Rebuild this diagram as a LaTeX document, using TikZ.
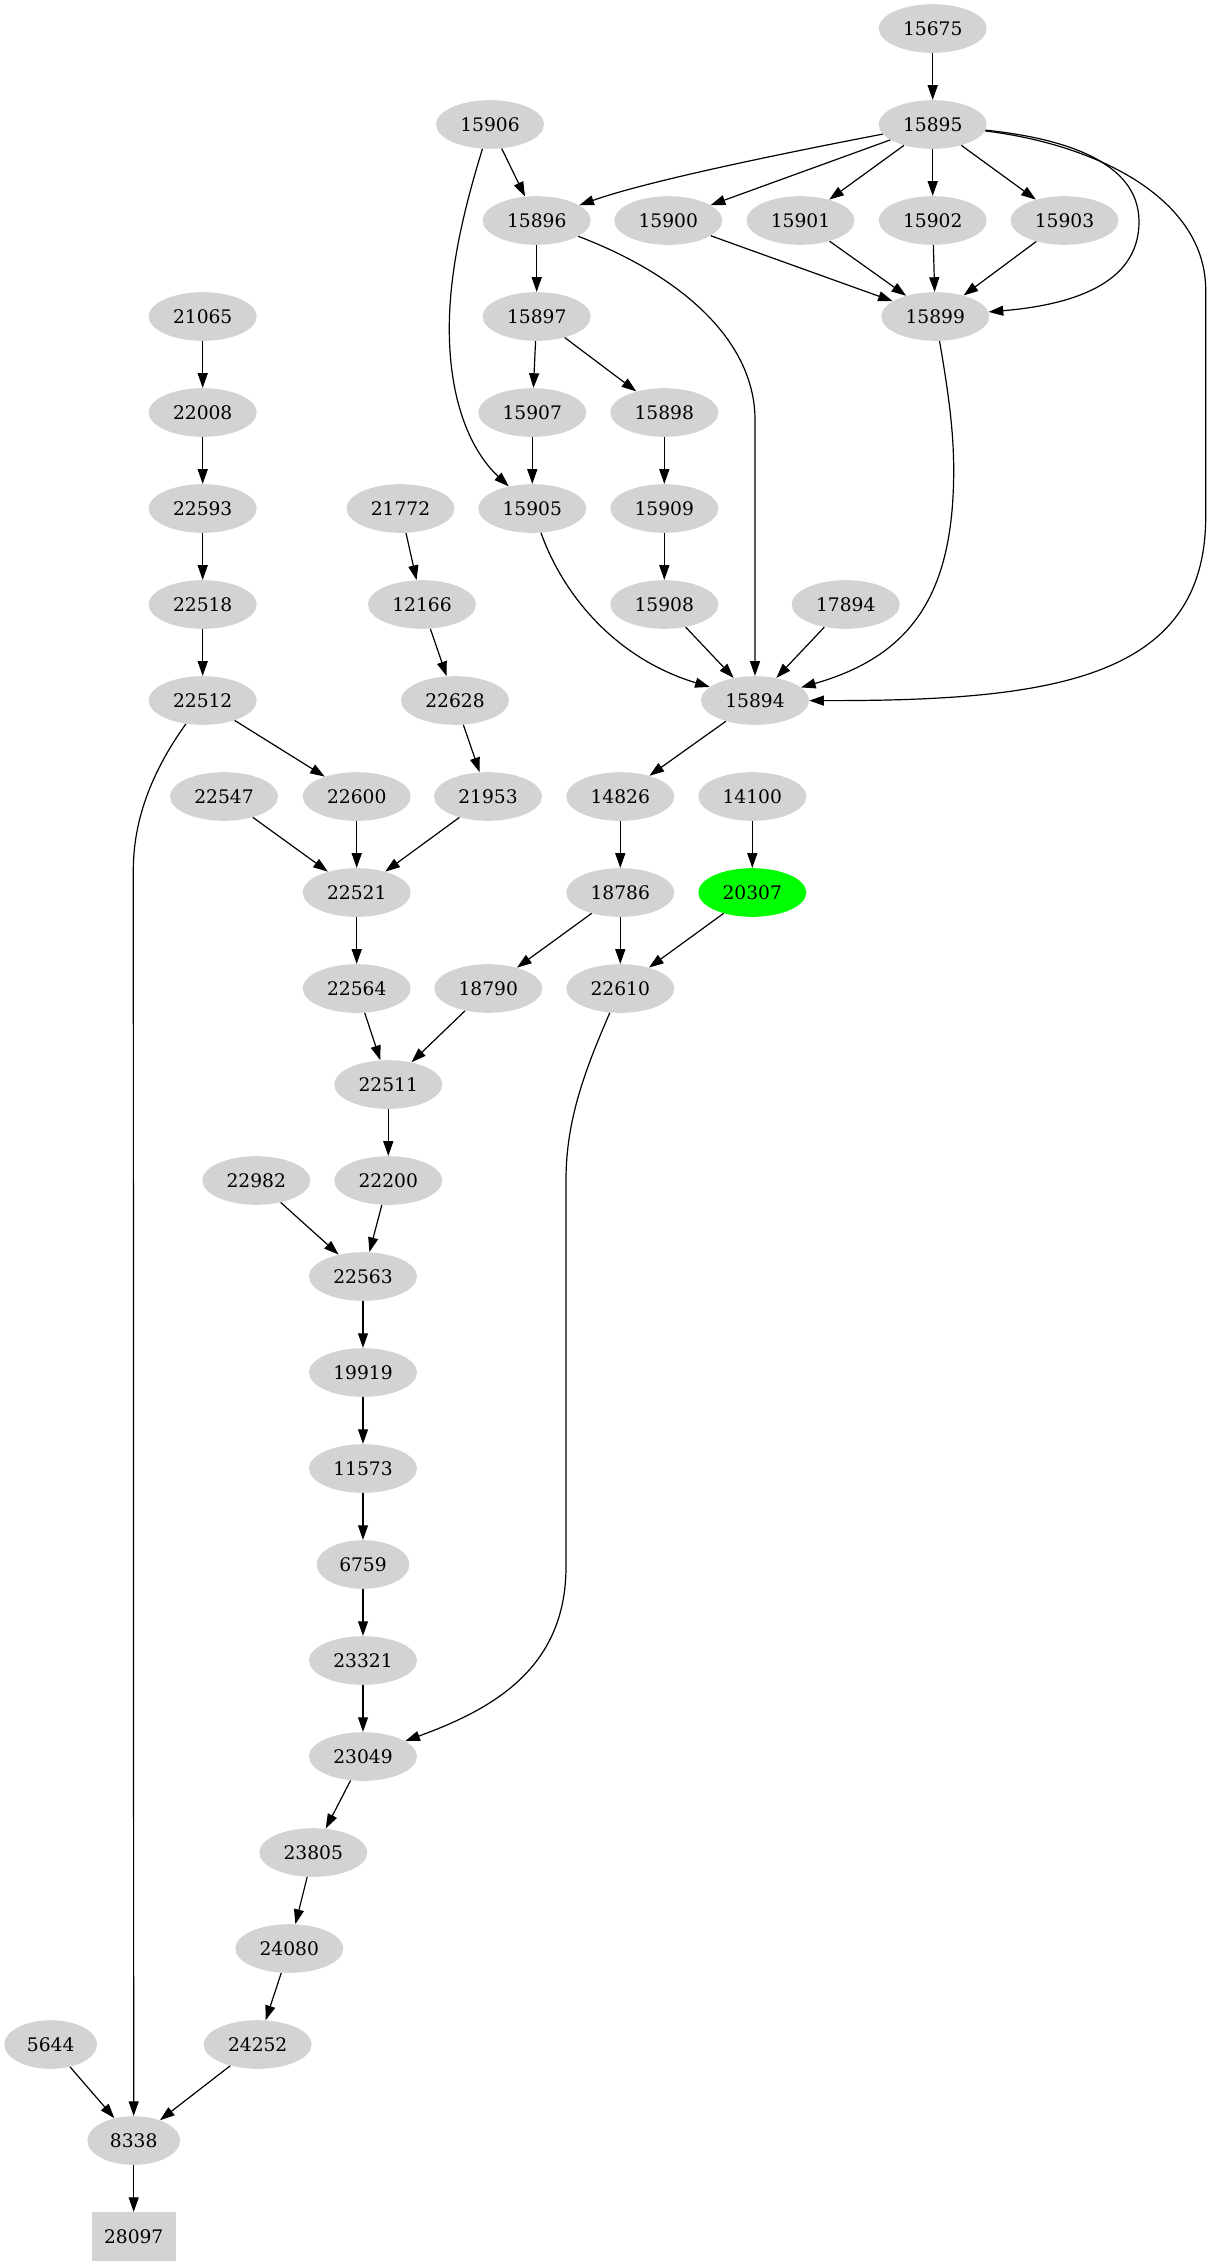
\documentclass[tikz,border=0pt]{standalone}
\usepackage{fontspec}
\setmainfont{DejaVu Serif}
\usetikzlibrary{shapes.geometric,arrows.meta}
\definecolor{gvgray}{HTML}{D3D3D3}
\definecolor{gvgreen}{HTML}{00FF00}
\tikzset{
  nd/.style={ellipse, fill=gvgray, draw=none, inner sep=0pt, minimum width=81pt, minimum height=36.5pt, font=\fontsize{14}{16}\selectfont},
  nds/.style={nd, minimum width=69.5pt},
  ndbox/.style={rectangle, fill=gvgray, draw=none, inner sep=0pt, minimum width=63pt, minimum height=36.5pt, font=\fontsize{14}{16}\selectfont},
  conn/.style={draw, line width=0.9pt, -{Triangle[length=11pt,width=7.5pt]}}
}
\begin{document}
\begin{tikzpicture}[x=0.75pt,y=-0.75pt]
\useasboundingbox (0,0) rectangle (1211,2267);
% rank 0
\node[nd] (n15675) at (932.7,28.5) {15675};
% rank 1
\node[nd] (n15906) at (490,124.5) {15906};
\node[nd] (n15895) at (932.7,124.5) {15895};
% rank 2
\node[nd] (n15896) at (536.7,220.5) {15896};
\node[nd] (n15900) at (668.3,220.5) {15900};
\node[nd] (n15901) at (800.5,220.5) {15901};
\node[nd] (n15902) at (932.7,220.5) {15902};
\node[nd] (n15903) at (1064.5,220.5) {15903};
% rank 3
\node[nd] (n21065) at (202.7,316.5) {21065};
\node[nd] (n15897) at (536.7,316.5) {15897};
\node[nd] (n15899) at (935.3,316.5) {15899};
% rank 4
\node[nd] (n22008) at (202.7,412.5) {22008};
\node[nd] (n15907) at (532.3,412.5) {15907};
\node[nd] (n15898) at (664.3,412.5) {15898};
% rank 5
\node[nd] (n22593) at (202.7,508.5) {22593};
\node[nd] (n21772) at (400.5,508.5) {21772};
\node[nd] (n15905) at (532.3,508.5) {15905};
\node[nd] (n15909) at (664.3,508.5) {15909};
% rank 6
\node[nd] (n22518) at (202.7,604.5) {22518};
\node[nd] (n12166) at (422,604.5) {12166};
\node[nd] (n15908) at (664.3,604.5) {15908};
\node[nd] (n17894) at (845.7,604.5) {17894};
% rank 7
\node[nd] (n22512) at (202.7,700.5) {22512};
\node[nd] (n22628) at (455,700.5) {22628};
\node[nd] (n15894) at (755,700.5) {15894};
% rank 8
\node[nd] (n22547) at (224,796.5) {22547};
\node[nd] (n22600) at (356.7,796.5) {22600};
\node[nd] (n21953) at (488,796.5) {21953};
\node[nd] (n14826) at (620.3,796.5) {14826};
\node[nd] (n14100) at (752.3,796.5) {14100};
% rank 9
\node[nd] (n22521) at (356.7,892.5) {22521};
\node[nd] (n18786) at (620.3,892.5) {18786};
\node[nd, fill=gvgreen] (n20307) at (752.3,892.5) {20307};
% rank 10
\node[nd] (n22564) at (356.7,988.5) {22564};
\node[nd] (n18790) at (488.3,988.5) {18790};
\node[nd] (n22610) at (620.3,988.5) {22610};
% rank 11
\node[nd] (n22511) at (388.3,1084.5) {22511};
% rank 12
\node[nd] (n22982) at (256.3,1180.5) {22982};
\node[nd] (n22200) at (388.3,1180.5) {22200};
% rank 13-18
\node[nd] (n22563) at (363,1276.5) {22563};
\node[nd] (n19919) at (363,1372.5) {19919};
\node[nd] (n11573) at (363,1468.5) {11573};
\node[nds] (n6759) at (363,1564.5) {6759};
\node[nd] (n23321) at (363,1660.5) {23321};
\node[nd] (n23049) at (363,1756.5) {23049};
% rank 19-23
\node[nd] (n23805) at (313.3,1852.5) {23805};
\node[nd] (n24080) at (289.3,1948.5) {24080};
\node[nds] (n5644) at (50.7,2044.5) {5644};
\node[nd] (n24252) at (257.7,2044.5) {24252};
\node[nds] (n8338) at (133.7,2140.5) {8338};
\node[ndbox] (n28097) at (133.7,2236.5) {28097};

% edges
\draw[conn] (n15675) -- (n15895);
\draw[conn] (n15906) -- (n15896);
\draw[conn] (n15906) .. controls (462,215) and (449,275) .. (449.3,330) .. controls (449.5,400) and (470,450) .. (n15905);
\draw[conn] (n15895) .. controls (800,150) and (650,180) .. (n15896);
\draw[conn] (n15895) -- (n15900);
\draw[conn] (n15895) -- (n15901);
\draw[conn] (n15895) -- (n15902);
\draw[conn] (n15895) -- (n15903);
\draw[conn] (n15895) .. controls (1060,138) and (1139,160) .. (1139,221.7) .. controls (1139,285) and (1070,305) .. (n15899);
\draw[conn] (n15895) .. controls (1100,145) and (1205.7,200) .. (1205.7,290) -- (1205.7,516.7) .. controls (1205.7,680) and (1050,701) .. (n15894);
\draw[conn] (n15896) -- (n15897);
\draw[conn] (n15896) .. controls (680,275) and (755,340) .. (755,420) -- (n15894);
\draw[conn] (n15900) -- (n15899);
\draw[conn] (n15901) -- (n15899);
\draw[conn] (n15902) -- (n15899);
\draw[conn] (n15903) -- (n15899);
\draw[conn] (n21065) -- (n22008);
\draw[conn] (n15897) -- (n15907);
\draw[conn] (n15897) -- (n15898);
\draw[conn] (n15899) .. controls (948,390) and (953.7,430) .. (953.7,470) .. controls (953.7,590) and (915,655) .. (n15894);
\draw[conn] (n22008) -- (n22593);
\draw[conn] (n15907) -- (n15905);
\draw[conn] (n15898) -- (n15909);
\draw[conn] (n22593) -- (n22518);
\draw[conn] (n21772) -- (n12166);
\draw[conn] (n15905) .. controls (565,600) and (620,660) .. (n15894);
\draw[conn] (n15909) -- (n15908);
\draw[conn] (n22518) -- (n22512);
\draw[conn] (n12166) -- (n22628);
\draw[conn] (n15908) -- (n15894);
\draw[conn] (n17894) -- (n15894);
\draw[conn] (n22512) -- (n22600);
\draw[conn] (n22512) .. controls (160,760) and (133.3,810) .. (133.3,870) -- (n8338);
\draw[conn] (n22628) -- (n21953);
\draw[conn] (n15894) -- (n14826);
\draw[conn] (n22547) -- (n22521);
\draw[conn] (n22600) -- (n22521);
\draw[conn] (n21953) -- (n22521);
\draw[conn] (n14826) -- (n18786);
\draw[conn] (n14100) -- (n20307);
\draw[conn] (n22521) -- (n22564);
\draw[conn] (n18786) -- (n18790);
\draw[conn] (n18786) -- (n22610);
\draw[conn] (n20307) -- (n22610);
\draw[conn] (n22564) -- (n22511);
\draw[conn] (n18790) -- (n22511);
\draw[conn] (n22610) .. controls (585,1070) and (566,1120) .. (566,1180) -- (566,1566.7) .. controls (566,1670) and (490,1710) .. (n23049);
\draw[conn] (n22511) -- (n22200);
\draw[conn] (n22982) -- (n22563);
\draw[conn] (n22200) -- (n22563);
\draw[conn] (n22563) -- (n19919);
\draw[conn] (n19919) -- (n11573);
\draw[conn] (n11573) -- (n6759);
\draw[conn] (n6759) -- (n23321);
\draw[conn] (n23321) -- (n23049);
\draw[conn] (n23049) -- (n23805);
\draw[conn] (n23805) -- (n24080);
\draw[conn] (n24080) -- (n24252);
\draw[conn] (n5644) -- (n8338);
\draw[conn] (n24252) -- (n8338);
\draw[conn] (n8338) -- (n28097);
\end{tikzpicture}
\end{document}
